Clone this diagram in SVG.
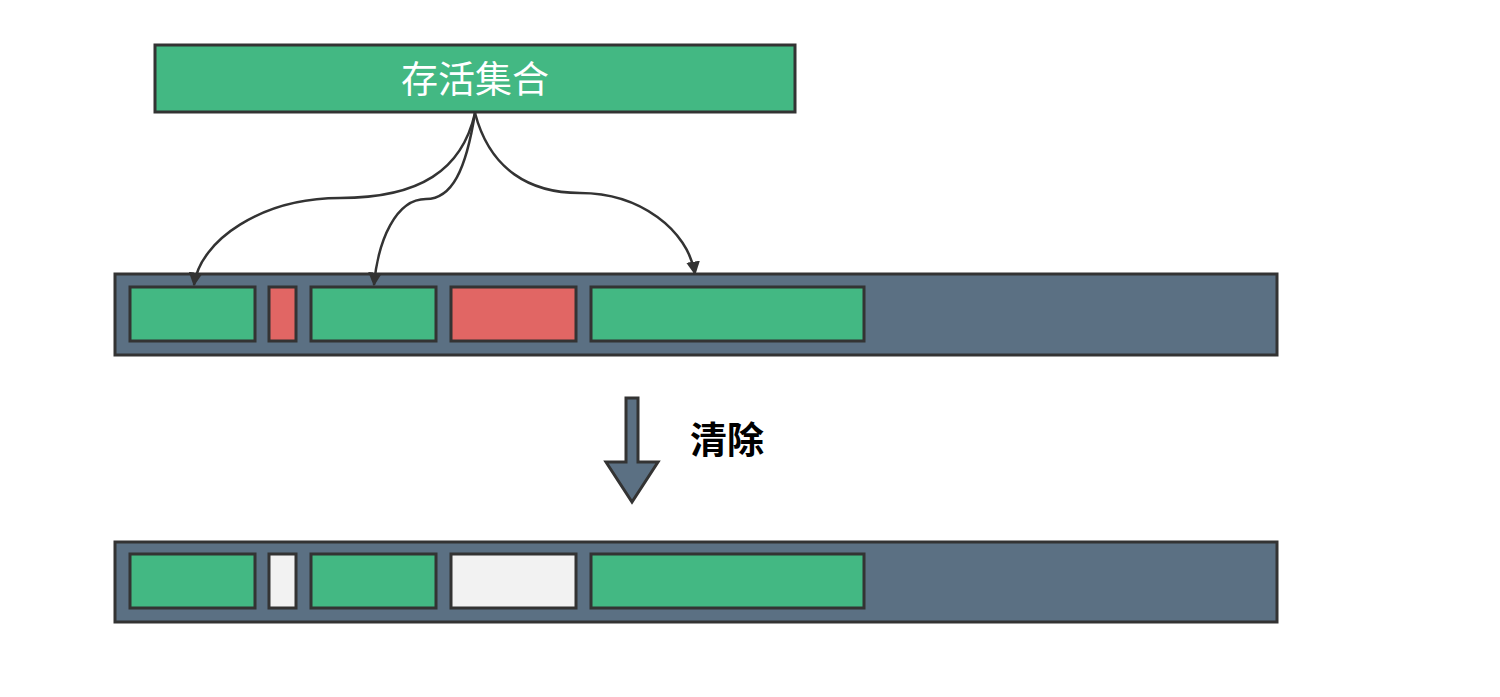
<svg xmlns="http://www.w3.org/2000/svg" width="1500" height="697" viewBox="0 0 1500 697">
<style>
.bar{fill:#5b7083;stroke:#333;stroke-width:3}
.g{fill:#43b883;stroke:#333;stroke-width:3}
.r{fill:#e16664;stroke:#333;stroke-width:3}
.w{fill:#f2f2f2;stroke:#333;stroke-width:3}
.conn{fill:none;stroke:#333;stroke-width:2.5}
.cjk{font-family:"Noto Sans CJK SC","Noto Sans",sans-serif}
</style>
<defs>
<marker id="ah" viewBox="0 0 10 10" refX="9" refY="5" markerWidth="5.5" markerHeight="5.5" orient="auto" markerUnits="strokeWidth">
<path d="M0,0 L10,5 L0,10 z" fill="#333"/>
</marker>
</defs>
<rect width="1500" height="697" fill="#fff"/>
<g id="live-set">
<rect x="155" y="45" width="640" height="67" class="g"/>
<text x="475" y="93" class="cjk" font-size="37" fill="#fff" text-anchor="middle">存活集合</text>
</g>
<g id="heap-before">
<rect x="115" y="274" width="1162" height="81" class="bar"/>
<rect x="130" y="287" width="125" height="54" class="g"/>
<rect x="269" y="287" width="27" height="54" class="r"/>
<rect x="311" y="287" width="125" height="54" class="g"/>
<rect x="451" y="287" width="125" height="54" class="r"/>
<rect x="591" y="287" width="273" height="54" class="g"/>
</g>
<g id="heap-after">
<rect x="115" y="542" width="1162" height="80" class="bar"/>
<rect x="130" y="554" width="125" height="54" class="g"/>
<rect x="269" y="554" width="27" height="54" class="w"/>
<rect x="311" y="554" width="125" height="54" class="g"/>
<rect x="451" y="554" width="125" height="54" class="w"/>
<rect x="591" y="554" width="273" height="54" class="g"/>
</g>
<g id="clear-arrow">
<path d="M626,398 H638 V462 H658 L632,502 L606,462 H626 Z" fill="#5b7083" stroke="#333" stroke-width="3" stroke-linejoin="miter"/>
<text x="690" y="454" class="cjk" font-size="37" font-weight="bold" fill="#000">清除</text>
</g>
<g id="connectors">
<path class="conn" marker-end="url(#ah)" d="M475,113 C462,170 420,198 340,198 C262,198 200,240 194,285"/>
<path class="conn" marker-end="url(#ah)" d="M475,113 C466,170 452,199 426,199 C396,199 378,240 374,285"/>
<path class="conn" marker-end="url(#ah)" d="M475,113 C490,170 530,193 580,193 C640,193 688,230 695,274"/>
</g>
</svg>
